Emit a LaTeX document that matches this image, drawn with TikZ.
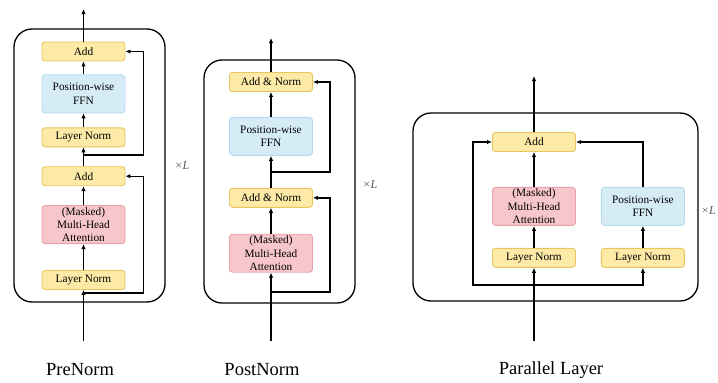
\documentclass[tikz,border=0pt]{standalone}
\usepackage{fontspec}
\setmainfont{Liberation Serif}
\usetikzlibrary{arrows.meta,positioning}
\definecolor{normfill}{HTML}{FCEAA6}
\definecolor{normline}{HTML}{EAC45C}
\definecolor{attnfill}{HTML}{F7C6CB}
\definecolor{attnline}{HTML}{E8A2AA}
\definecolor{ffnfill}{HTML}{D5ECF7}
\definecolor{ffnline}{HTML}{B7DCEC}

\begin{document}
\begin{tikzpicture}[x=1pt,y=-1pt,
 every node/.style={align=center,font=\fontsize{11.3}{13.3}\selectfont},
 box/.style={draw,rounded corners=3pt,line width=0.9pt,minimum width=83pt,inner sep=0pt},
 norm/.style={box,fill=normfill,draw=normline,minimum height=19pt},
 attn/.style={box,fill=attnfill,draw=attnline,minimum height=38pt},
 ffn/.style={box,fill=ffnfill,draw=ffnline,minimum height=38pt},
 frame/.style={draw,line width=1.3pt,rounded corners=18pt},
 arr/.style={-{Latex[length=5pt,width=4.5pt]},line width=1.4pt},
 times/.style={text=black!65,font=\fontsize{12}{14}\selectfont\itshape},
 caption/.style={font=\fontsize{18.5}{22}\selectfont}]
\clip (0,0) rectangle (718,383);

% PreNorm
\draw[frame] (14,29) rectangle (165,302);
\node[norm] (preaddb) at (83.5,51.5) {Add};
\node[ffn,below=13pt of preaddb] (preffn) {Position-wise\\FFN};
\node[norm,below=14pt of preffn] (preln2) {Layer Norm};
\node[norm,below=19pt of preln2] (preadda) {Add};
\node[attn,below=19pt of preadda] (premha) {(Masked)\\Multi-Head\\Attention};
\node[norm,below=26pt of premha] (preln1) {Layer Norm};
\coordinate (prein) at (83.5,341);
\coordinate (preout) at (83.5,9);
\coordinate (prebr1) at (83.5,293);
\coordinate (prebr2) at (83.5,155);
\node[times] (prex) at (182,166) {×L};
\node[caption] (precap) at (80,370) {PreNorm};
\draw[arr] (prein)--(preln1);
\draw[arr] (preln1)--(premha);
\draw[arr] (premha)--(preadda);
\draw[arr] (preadda)--(preln2);
\draw[arr] (preln2)--(preffn);
\draw[arr] (preffn)--(preaddb);
\draw[arr] (preaddb)--(preout);
\draw[arr] (prebr1) -| ([xshift=18pt]preadda.east) -- (preadda.east);
\draw[arr] (prebr2) -| ([xshift=18pt]preaddb.east) -- (preaddb.east);

% PostNorm
\draw[frame] (204,60) rectangle (355,303);
\node[norm] (postaddb) at (271,82) {Add \& Norm};
\node[ffn,below=25pt of postaddb] (postffn) {Position-wise\\FFN};
\node[norm,below=32pt of postffn] (postadda) {Add \& Norm};
\node[attn,below=26pt of postadda] (postmha) {(Masked)\\Multi-Head\\Attention};
\coordinate (postin) at (271,341);
\coordinate (postout) at (271,38);
\coordinate (postbr1) at (271,292);
\coordinate (postbr2) at (271,172);
\node[times] (postx) at (370,185) {×L};
\node[caption] (postcap) at (262,370) {PostNorm};
\draw[arr] (postin)--(postmha);
\draw[arr] (postmha)--(postadda);
\draw[arr] (postadda)--(postffn);
\draw[arr] (postffn)--(postaddb);
\draw[arr] (postaddb)--(postout);
\draw[arr] (postbr1) -| ([xshift=17pt]postadda.east) -- (postadda.east);
\draw[arr] (postbr2) -| ([xshift=17pt]postaddb.east) -- (postaddb.east);

% Parallel Layer
\draw[frame] (413,113) rectangle (698,301);
\node[norm] (paradd) at (534,142) {Add};
\node[attn,below=35pt of paradd] (parmha) {(Masked)\\Multi-Head\\Attention};
\node[norm,below=22pt of parmha] (parln1) {Layer Norm};
\node[ffn,right=25pt of parmha] (parffn) {Position-wise\\FFN};
\node[norm,below=22pt of parffn] (parln2) {Layer Norm};
\coordinate (parin) at (534,341);
\coordinate (parout) at (534,76);
\coordinate (parbr) at (534,285);
\node[times,anchor=east,inner sep=1pt] (parx) at (717,211) {×L};
\node[caption] (parcap) at (551,370) {Parallel Layer};
\draw[arr] (parin)--(parln1);
\draw[arr] (parln1)--(parmha);
\draw[arr] (parmha)--(paradd);
\draw[arr] (paradd)--(parout);
\draw[arr] (parln2)--(parffn);
\draw[arr] (parbr) -| ([xshift=-19pt]paradd.west) -- (paradd.west);
\draw[arr] (parbr) -| (parln2.south);
\draw[arr] (parffn.north) |- (paradd.east);
\end{tikzpicture}
\end{document}
